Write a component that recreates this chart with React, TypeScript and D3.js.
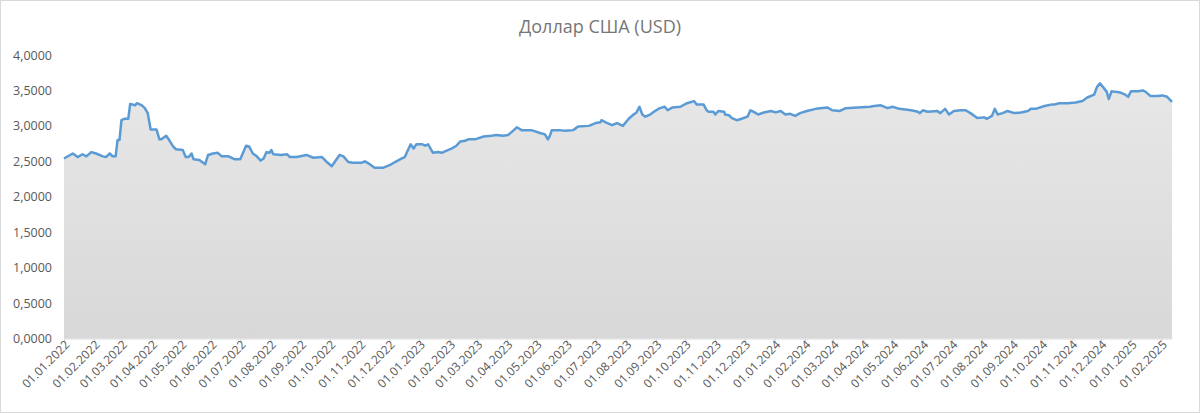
import * as React from "react";
import * as d3 from "d3";

const chartTitle: string = "Доллар США (USD)";
const lineColor: string = "rgb(91, 155, 213)";
const textColor: string = "rgb(89, 89, 89)";
const axisColor: string = "rgb(217, 217, 217)";

const yTickValues: number[] = [0, 0.5, 1, 1.5, 2, 2.5, 3, 3.5, 4];
const xStart: string = "2022-01-01";
const xEnd: string = "2025-02-12";

// курс по датам
const rateDates: string[] = [
    "2022-01-01", "2022-01-10", "2022-01-15", "2022-01-20", "2022-01-24", "2022-01-29", "2022-02-03", "2022-02-10",
    "2022-02-13", "2022-02-17", "2022-02-20", "2022-02-23", "2022-02-25", "2022-02-27", "2022-03-01", "2022-03-04",
    "2022-03-08", "2022-03-10", "2022-03-15", "2022-03-17", "2022-03-22", "2022-03-25", "2022-03-28", "2022-03-31",
    "2022-04-06", "2022-04-09", "2022-04-11", "2022-04-16", "2022-04-19", "2022-04-23", "2022-04-26", "2022-05-03",
    "2022-05-06", "2022-05-09", "2022-05-12", "2022-05-14", "2022-05-20", "2022-05-26", "2022-05-29", "2022-06-03",
    "2022-06-08", "2022-06-12", "2022-06-19", "2022-06-25", "2022-07-01", "2022-07-07", "2022-07-10", "2022-07-14",
    "2022-07-18", "2022-07-22", "2022-07-25", "2022-07-28", "2022-07-31", "2022-08-02", "2022-08-04", "2022-08-12",
    "2022-08-18", "2022-08-21", "2022-08-28", "2022-09-07", "2022-09-14", "2022-09-23", "2022-09-28", "2022-10-03",
    "2022-10-06", "2022-10-11", "2022-10-15", "2022-10-20", "2022-10-25", "2022-11-03", "2022-11-06", "2022-11-11",
    "2022-11-16", "2022-11-25", "2022-12-02", "2022-12-07", "2022-12-14", "2022-12-17", "2022-12-21", "2022-12-23",
    "2022-12-26", "2022-12-29",
    "2023-01-04", "2023-01-07", "2023-01-10", "2023-01-15", "2023-01-20", "2023-01-24", "2023-01-29", "2023-02-03",
    "2023-02-08", "2023-02-12", "2023-02-17", "2023-02-20", "2023-02-27", "2023-03-08", "2023-03-16", "2023-03-21",
    "2023-03-28", "2023-04-02", "2023-04-08", "2023-04-11", "2023-04-16", "2023-04-26", "2023-05-05", "2023-05-10",
    "2023-05-13", "2023-05-15", "2023-05-17", "2023-05-24", "2023-05-31", "2023-06-08", "2023-06-13", "2023-06-24",
    "2023-07-01", "2023-07-06", "2023-07-07", "2023-07-13", "2023-07-18", "2023-07-23", "2023-07-29", "2023-08-04",
    "2023-08-09", "2023-08-12", "2023-08-15", "2023-08-18", "2023-08-21", "2023-08-26", "2023-08-31", "2023-09-05",
    "2023-09-10", "2023-09-13", "2023-09-18", "2023-09-26", "2023-10-03", "2023-10-10", "2023-10-13", "2023-10-20",
    "2023-10-23", "2023-10-25", "2023-10-30", "2023-11-01", "2023-11-04", "2023-11-10", "2023-11-11", "2023-11-15",
    "2023-11-18", "2023-11-23", "2023-11-28", "2023-12-04", "2023-12-07", "2023-12-10", "2023-12-15", "2023-12-21",
    "2023-12-28",
    "2024-01-02", "2024-01-07", "2024-01-12", "2024-01-17", "2024-01-22", "2024-01-27", "2024-02-03", "2024-02-12",
    "2024-02-24", "2024-02-29", "2024-03-08", "2024-03-14", "2024-03-26", "2024-04-08", "2024-04-12", "2024-04-19",
    "2024-04-26", "2024-05-01", "2024-05-08", "2024-05-20", "2024-05-27", "2024-05-29", "2024-06-01", "2024-06-06",
    "2024-06-16", "2024-06-19", "2024-06-24", "2024-06-28", "2024-07-03", "2024-07-10", "2024-07-15", "2024-07-20",
    "2024-07-27", "2024-08-03", "2024-08-06", "2024-08-11", "2024-08-14", "2024-08-17", "2024-08-22", "2024-08-27",
    "2024-09-03", "2024-09-10", "2024-09-17", "2024-09-20", "2024-09-25", "2024-10-04", "2024-10-11", "2024-10-14",
    "2024-10-19", "2024-10-28", "2024-11-05", "2024-11-12", "2024-11-17", "2024-11-24", "2024-11-27", "2024-11-30",
    "2024-12-03", "2024-12-07", "2024-12-09", "2024-12-12", "2024-12-16", "2024-12-21", "2024-12-26", "2024-12-29",
    "2025-01-01", "2025-01-08", "2025-01-13", "2025-01-16", "2025-01-21", "2025-01-28", "2025-02-02", "2025-02-07",
    "2025-02-12"
];
const rateValues: number[] = [
    2.54, 2.61, 2.56, 2.60, 2.57, 2.63, 2.61, 2.57,
    2.56, 2.61, 2.57, 2.57, 2.80, 2.80, 3.08, 3.10,
    3.10, 3.31, 3.29, 3.32, 3.29, 3.25, 3.18, 2.95,
    2.95, 2.81, 2.81, 2.86, 2.80, 2.71, 2.67, 2.66,
    2.56, 2.56, 2.61, 2.53, 2.52, 2.46, 2.59, 2.61,
    2.62, 2.57, 2.57, 2.53, 2.53, 2.72, 2.71, 2.61,
    2.57, 2.51, 2.54, 2.63, 2.62, 2.66, 2.60, 2.59,
    2.60, 2.56, 2.56, 2.59, 2.55, 2.56, 2.49, 2.43,
    2.49, 2.59, 2.57, 2.49, 2.48, 2.48, 2.50, 2.46,
    2.41, 2.41, 2.45, 2.49, 2.54, 2.56, 2.68, 2.74,
    2.68, 2.74,
    2.74, 2.72, 2.74, 2.62, 2.63, 2.62, 2.65, 2.68,
    2.72, 2.78, 2.79, 2.81, 2.81, 2.85, 2.86, 2.87,
    2.86, 2.87, 2.94, 2.98, 2.94, 2.94, 2.90, 2.88,
    2.81, 2.86, 2.94, 2.94, 2.93, 2.94, 2.99, 3.00,
    3.04, 3.05, 3.08, 3.04, 3.01, 3.04, 3.00, 3.10,
    3.16, 3.19, 3.27, 3.16, 3.13, 3.16, 3.21, 3.25,
    3.27, 3.22, 3.26, 3.27, 3.32, 3.35, 3.30, 3.30,
    3.22, 3.20, 3.20, 3.16, 3.21, 3.20, 3.16, 3.15,
    3.11, 3.08, 3.10, 3.13, 3.22, 3.20, 3.16, 3.19,
    3.21,
    3.19, 3.21, 3.16, 3.17, 3.14, 3.18, 3.21, 3.24,
    3.26, 3.22, 3.21, 3.25, 3.26, 3.27, 3.28, 3.29,
    3.25, 3.27, 3.24, 3.22, 3.20, 3.18, 3.22, 3.20,
    3.21, 3.18, 3.24, 3.16, 3.21, 3.22, 3.22, 3.18,
    3.11, 3.12, 3.10, 3.14, 3.24, 3.16, 3.18, 3.21,
    3.18, 3.19, 3.21, 3.24, 3.24, 3.28, 3.30, 3.30,
    3.32, 3.32, 3.33, 3.35, 3.40, 3.44, 3.55, 3.60,
    3.55, 3.48, 3.38, 3.49, 3.48, 3.47, 3.44, 3.41,
    3.49, 3.49, 3.50, 3.48, 3.42, 3.42, 3.43, 3.41,
    3.34
];

type MarginType = {
    top: number;
    right: number;
    bottom: number;
    left: number;
};

interface Point {
    date: Date;
    value: number;
}

const width: number = 1200;
const height: number = 413;
const margin: MarginType = { top: 55, right: 28, bottom: 74.5, left: 64 };

const App = (): JSX.Element => {
    const ref: React.RefObject<SVGSVGElement> = React.useRef<SVGSVGElement>(null);

    React.useEffect(() => {
        document.body.style.margin = "0";
        const svg = d3.select(ref.current);
        svg.selectAll("*").remove();

        const parse = d3.timeParse("%Y-%m-%d");
        const points: Point[] = rateDates.map((d: string, i: number) => ({ date: parse(d) as Date, value: rateValues[i] }));

        const xScale = d3.scaleTime()
            .domain([parse(xStart) as Date, parse(xEnd) as Date])
            .range([margin.left, width - margin.right]);
        const yScale = d3.scaleLinear()
            .domain([0, 4])
            .range([height - margin.bottom, margin.top]);

        // рамка области диаграммы
        svg.append("rect")
            .attr("x", 0.5).attr("y", 0.5)
            .attr("width", width - 1).attr("height", height - 1)
            .attr("fill", "white")
            .attr("stroke", axisColor);

        svg.append("text")
            .attr("x", width / 2)
            .attr("y", 33)
            .attr("text-anchor", "middle")
            .attr("font-family", "'Open Sans', sans-serif")
            .attr("font-size", 18)
            .attr("fill", "rgb(118, 118, 118)")
            .text(chartTitle);

        const grad = svg.append("defs").append("linearGradient")
            .attr("id", "areaFill")
            .attr("gradientUnits", "userSpaceOnUse")
            .attr("x1", 0).attr("x2", 0)
            .attr("y1", yScale(4)).attr("y2", yScale(0));
        grad.append("stop").attr("offset", "0%").attr("stop-color", "rgb(233, 233, 233)");
        grad.append("stop").attr("offset", "100%").attr("stop-color", "rgb(216, 216, 216)");

        const area = d3.area<Point>()
            .x((p: Point) => xScale(p.date))
            .y0(yScale(0))
            .y1((p: Point) => yScale(p.value));
        const line = d3.line<Point>()
            .x((p: Point) => xScale(p.date))
            .y((p: Point) => yScale(p.value));

        svg.append("path")
            .datum(points)
            .attr("d", area)
            .attr("fill", "url(#areaFill)");

        // ось X с отметками на первое число месяца
        const monthTicks: Date[] = d3.timeMonth.range(parse(xStart) as Date, xScale.domain()[1]);
        const xAxis = d3.axisBottom(xScale)
            .tickValues(monthTicks)
            .tickSizeInner(5)
            .tickSizeOuter(0)
            .tickFormat(d3.timeFormat("%d.%m.%Y") as any); //tslint:disable-line
        const xG = svg.append("g")
            .attr("transform", `translate(0, ${yScale(0)})`)
            .call(xAxis);
        xG.select(".domain").attr("stroke", axisColor);
        xG.selectAll(".tick line").attr("stroke", axisColor);
        xG.selectAll(".tick text")
            .attr("font-family", "'Open Sans', sans-serif")
            .attr("font-size", 12)
            .attr("fill", textColor)
            .attr("text-anchor", "end")
            .attr("dy", "0.35em")
            .attr("transform", "translate(3, 4) rotate(-45)")
            .attr("x", 0)
            .attr("y", 0);

        const yAxis = d3.axisLeft(yScale)
            .tickValues(yTickValues)
            .tickSize(0)
            .tickPadding(12)
            .tickFormat((v: d3.NumberValue) => d3.format(".4f")(v as number).replace(".", ","));
        const yG = svg.append("g")
            .attr("transform", `translate(${margin.left}, 0)`)
            .call(yAxis);
        yG.select(".domain").remove();
        yG.selectAll(".tick text")
            .attr("font-family", "'Open Sans', sans-serif")
            .attr("font-size", 12.5)
            .attr("fill", textColor);

        svg.append("path")
            .datum(points)
            .attr("d", line)
            .attr("fill", "none")
            .attr("stroke", lineColor)
            .attr("stroke-width", 2.5)
            .attr("stroke-linejoin", "round");
    }, []);

    return <svg ref={ref} width={width} height={height} style={{ display: "block" }} />;
};

export default App;
